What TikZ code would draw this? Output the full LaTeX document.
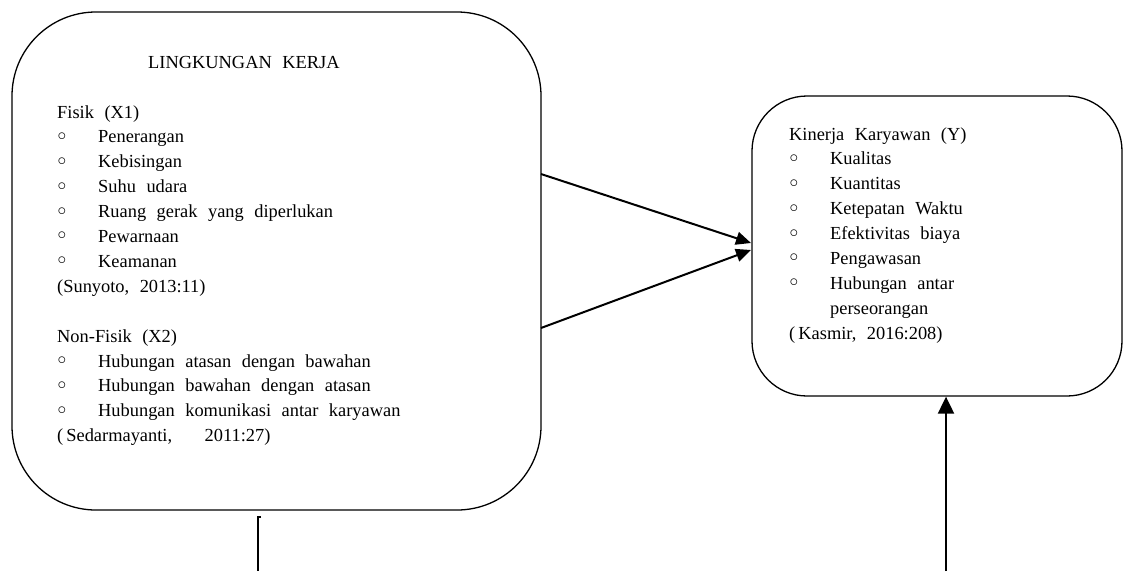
\documentclass[tikz,border=0pt]{standalone}
\usepackage{fontspec}
\setmainfont{Liberation Serif}
\usetikzlibrary{arrows.meta}
\newcommand\bul{\makebox[41pt][l]{\hspace{0.5pt}\raisebox{2.6pt}{$\circ$}}}
\newcommand\diagfont{\fontsize{18.4}{24.9}\selectfont\spaceskip=10.5pt plus 1pt\relax}
\begin{document}
\begin{tikzpicture}[x=1pt,y=-1pt,
  box/.style={draw, line width=1.3pt, rounded corners=#1, inner sep=0pt},
  txt/.style={anchor=base west, inner sep=0pt, font=\diagfont},
  conn/.style={line width=2pt, -{Triangle[length=15pt,width=13pt]}},
  connv/.style={line width=2pt, -{Triangle[length=17pt,width=16pt]}},
  plain/.style={line width=1.3pt}]
\useasboundingbox (0,0) rectangle (1127,571);
% boxes
\node[box=84pt, minimum width=529pt, minimum height=498pt] (lk) at (276.5,261) {};
\node[box=55pt, minimum width=370pt, minimum height=300pt] (kk) at (937,246) {};
% texts
\node[txt] (title) at (148,68) {LINGKUNGAN KERJA};
\node[txt] (xtext) at (57,118) {\begin{tabular}[t]{@{}l@{}}
Fisik (X1)\\
\bul Penerangan\\
\bul Kebisingan\\
\bul Suhu udara\\
\bul Ruang gerak yang diperlukan\\
\bul Pewarnaan\\
\bul Keamanan\\
(Sunyoto, 2013:11)\\
\\
Non-Fisik (X2)\\
\bul Hubungan atasan dengan bawahan\\
\bul Hubungan bawahan dengan atasan\\
\bul Hubungan komunikasi antar karyawan\\
(\,Sedarmayanti,\hspace{22pt} 2011:27)
\end{tabular}};
\node[txt] (ytext) at (789,140) {\begin{tabular}[t]{@{}l@{}}
Kinerja Karyawan (Y)\\
\bul Kualitas\\
\bul Kuantitas\\
\bul Ketepatan Waktu\\
\bul Efektivitas biaya\\
\bul Pengawasan\\
\bul Hubungan antar\\
\makebox[41pt]{}perseorangan\\
(\,Kasmir, 2016:208)
\end{tabular}};
% connectors
\coordinate (a1s) at (541,174);
\coordinate (a1e) at (751,243);
\coordinate (a2s) at (541,328);
\coordinate (a2e) at (751,250);
\draw[conn] (a1s) -- (a1e);
\draw[conn] (a2s) -- (a2e);
\coordinate (v1) at (946,571);
\draw[connv] (v1) -- (v1 |- kk.south);
\coordinate (l0) at (261,517);
\coordinate (l1) at (258,517);
\coordinate (l2) at (258,571);
\draw[plain] (l0) -- (l1) -- (l2);
\end{tikzpicture}
\end{document}
